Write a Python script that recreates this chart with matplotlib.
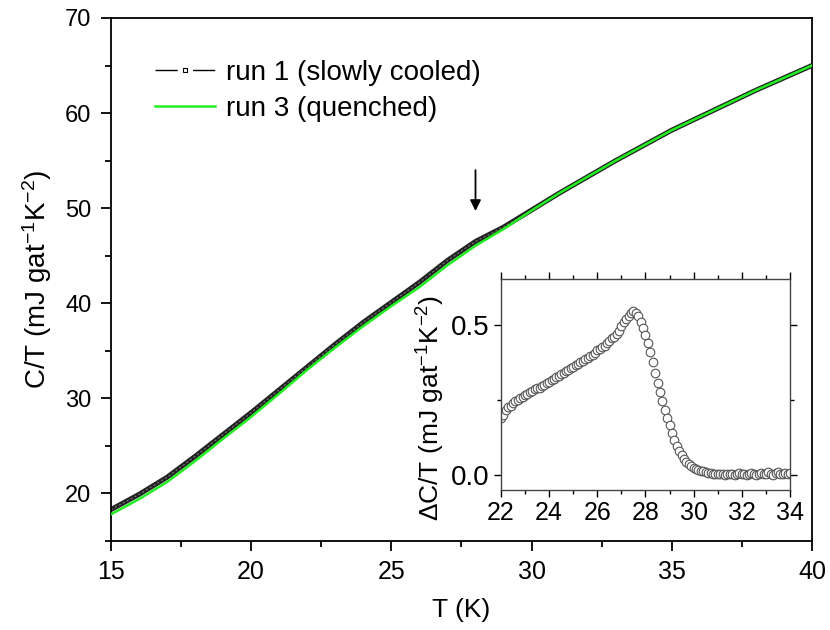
import matplotlib
matplotlib.use("Agg")
import matplotlib.pyplot as plt
from matplotlib.lines import Line2D
from matplotlib.ticker import MultipleLocator, FormatStrFormatter
import numpy as np

plt.rcParams["font.family"] = ["Liberation Sans", "DejaVu Sans"]
plt.rcParams["mathtext.fontset"] = "custom"
plt.rcParams["mathtext.rm"] = "Liberation Sans"
plt.rcParams["mathtext.it"] = "Liberation Sans:italic"

# Main panel data: C/T (mJ gat^-1 K^-2) vs T (K)
temp = [15, 16, 17, 18, 19, 20, 21, 22, 23, 24, 25, 26, 27,
        28, 29, 30, 31, 32, 33, 34, 35, 36, 37, 38, 39, 40]
run1 = [18.3, 19.9, 21.7, 23.9, 26.2, 28.5, 30.9, 33.3, 35.7, 38.0, 40.1, 42.2, 44.5,
        46.5, 48.0, 49.8, 51.6, 53.3, 55.0, 56.6, 58.2, 59.6, 61.0, 62.4, 63.7, 65.0]
run3 = [17.8, 19.4, 21.2, 23.4, 25.75, 28.05, 30.5, 33.0, 35.35, 37.6, 39.7, 41.7, 44.0,
        46.05, 47.8, 49.75, 51.6, 53.3, 55.0, 56.6, 58.2, 59.6, 61.0, 62.4, 63.7, 65.0]

# Inset data: delta C/T vs T (0.1 K steps, 22.0 ... 34.0)
t_inset = np.round(np.arange(22.0, 34.01, 0.1), 1)
dct = [
    0.190, 0.200, 0.215, 0.225, 0.230, 0.240, 0.245, 0.250, 0.255, 0.260,
    0.265, 0.270, 0.275, 0.280, 0.285, 0.290, 0.290, 0.295, 0.300, 0.305,
    0.310, 0.315, 0.320, 0.325, 0.330, 0.335, 0.340, 0.345, 0.350, 0.355,
    0.360, 0.365, 0.370, 0.375, 0.380, 0.385, 0.390, 0.395, 0.400, 0.405,
    0.415, 0.420, 0.425, 0.430, 0.440, 0.445, 0.455, 0.460, 0.470, 0.480,
    0.495, 0.510, 0.520, 0.530, 0.540, 0.545, 0.540, 0.530, 0.510, 0.490,
    0.465, 0.440, 0.410, 0.375, 0.340, 0.305, 0.275, 0.245, 0.215, 0.190,
    0.165, 0.140, 0.115, 0.095, 0.080, 0.065, 0.052, 0.043, 0.036, 0.030,
    0.025, 0.020, 0.017, 0.014, 0.012, 0.010, 0.008, 0.006, 0.005, 0.004,
    0.003, 0.002, 0.004, 0.001, 0.003, 0.005, 0.002, 0.000, 0.004, 0.006,
    0.002, 0.005, 0.001, 0.004, 0.007, 0.003, 0.000, 0.005, 0.008, 0.002,
    0.004, 0.009, 0.003, 0.001, 0.006, 0.010, 0.002, 0.005, 0.008, 0.003,
    0.006,
]

ylab = "C/T (mJ gat$^{-1}$K$^{-2}$)"
ylab_in = "\u0394C/T (mJ gat$^{-1}$K$^{-2}$)"

fig = plt.figure(figsize=(8.3, 6.3), dpi=100)
ax = fig.add_axes([0.1337, 0.1413, 0.8446, 0.8302])

ax.plot(temp, run1, color="#222222", lw=3.6, solid_capstyle="round", zorder=2)
ax.plot(temp, run1, color="#777777", lw=0.8, ls=(0, (2, 2)), zorder=2.1)
ax.plot(temp, run3, color="#22ee22", lw=1.8, zorder=3)

ax.set_xlim(15, 40)
ax.set_ylim(15, 70)
ax.xaxis.set_major_locator(MultipleLocator(5))
ax.xaxis.set_minor_locator(MultipleLocator(2.5))
ax.yaxis.set_major_locator(MultipleLocator(10))
ax.yaxis.set_minor_locator(MultipleLocator(5))
ax.tick_params(which="major", direction="out", length=7, width=1.3, pad=7)
ax.tick_params(which="minor", direction="out", length=4, width=1.3)
ax.tick_params(axis="x", labelsize=18)
ax.tick_params(axis="y", labelsize=17)
for s in ax.spines.values():
    s.set_linewidth(1.3)
ax.set_xlabel("T (K)", fontsize=19, labelpad=10)
ax.set_ylabel(ylab, fontsize=20, labelpad=8)

h1 = Line2D([], [], color="black", lw=1.0, ls=(0, (16, 11, 16, 100)),
            marker="s", ms=3.5, mfc="white", mec="black", mew=0.8)
h3 = Line2D([], [], color="#22ee22", lw=1.8)
ax.legend([h1, h3], ["run 1 (slowly cooled)", "run 3 (quenched)"],
          loc="upper left", bbox_to_anchor=(0.063, 0.92), frameon=False,
          fontsize=20, handlelength=2.16, handletextpad=0.4, labelspacing=0.36,
          borderpad=0, borderaxespad=0, numpoints=1)

ax.annotate("", xy=(28, 49.7), xytext=(28, 54.0),
            arrowprops=dict(arrowstyle="-|>", color="black", lw=1.3,
                            mutation_scale=16, shrinkA=0, shrinkB=0))

# Inset
ins = fig.add_axes([0.6036, 0.2222, 0.3482, 0.3349])
ins.plot(t_inset, dct, ls="none", marker="o", ms=6.2, mfc="white",
         mec="#555555", mew=0.8)
ins.set_xlim(22, 34)
ins.set_ylim(-0.05, 0.653)
ins.xaxis.set_major_locator(MultipleLocator(2))
ins.xaxis.set_minor_locator(MultipleLocator(1))
ins.yaxis.set_major_locator(MultipleLocator(0.5))
ins.yaxis.set_minor_locator(MultipleLocator(0.25))
ins.yaxis.set_major_formatter(FormatStrFormatter("%.1f"))
ins.tick_params(which="major", direction="out", length=5, width=1.0, pad=3)
ins.tick_params(which="minor", direction="out", length=3, width=1.0)
ins.tick_params(axis="x", labelsize=18)
ins.tick_params(axis="y", labelsize=20)
ins.tick_params(which="both", top=True, right=True)
for s in ins.spines.values():
    s.set_linewidth(1.0)
    s.set_color("#444444")
ins.set_ylabel(ylab_in, fontsize=19)
ins.yaxis.set_label_coords(-0.187, 0.39)

fig.savefig("out.png", dpi=100)
